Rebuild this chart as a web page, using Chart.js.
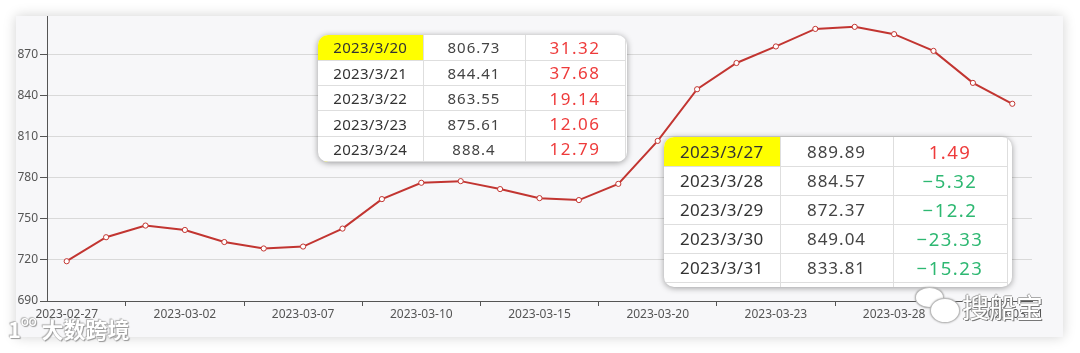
<!DOCTYPE html>
<html>
<head>
<meta charset="utf-8">
<script src="https://cdn.jsdelivr.net/npm/chart.js@4.4.0/dist/chart.umd.min.js"></script>
<style>
  html, body { margin:0; padding:0; background:#ffffff; width:1080px; height:353px; overflow:hidden; }
  #card { position:absolute; left:16px; top:16px; width:1047px; height:321px; background:#f7f7f9;
          box-shadow: 0 0 12px rgba(0,0,0,0.18); overflow:hidden; }
  #cwrap { position:absolute; left:0; top:-16px; width:1047px; height:337px; }
  .tbl { position:absolute; background:#fff; border-radius:10px; box-shadow:0 1px 6px rgba(0,0,0,0.38);
         overflow:hidden; font-family:"Noto Sans", sans-serif; color:#333; }
  .tbl table { border-collapse:collapse; table-layout:fixed; }
  .tbl td { border:1px solid #dedede; text-align:center; padding:0; white-space:nowrap; }
  .tbl tr:first-child td { border-top:none; }
  .tbl td:first-child { border-left:none; }
  .hl { background:#ffff00; }
  .up { color:#ee3b3b; }
  .dn { color:#2eb872; }
  .wm { position:absolute; color:#ffffff; font-family:"Noto Sans CJK SC", sans-serif; font-weight:700;
        text-shadow: 0 0 1px #888, 1px 1px 1px #999, -1px -1px 1px #bbb; }
</style>
</head>
<body>
<div id="card">
  <div id="cwrap"><canvas id="c"></canvas></div>
</div>
<div class="tbl" id="t1" style="left:318px; top:35px; width:309px; height:127px;"></div>
<div class="tbl" id="t2" style="left:664px; top:137px; width:348px; height:150px;"></div>
<div class="wm" style="left:8px; top:312px; font-size:22px; letter-spacing:0px;">1<span style="font-size:15px;vertical-align:top;">ᴼᴼ</span> 大数跨境</div>
<div class="wm" style="left:915px; top:287px; width:27px; height:19px; border-radius:50%; background:#fff; border:1px solid #bbb; box-shadow:0 0 2px #999;"></div>
<div class="wm" style="left:930px; top:298px; width:28px; height:23px; border-radius:50%; background:#fff; border:1px solid #bbb; box-shadow:0 0 2px #999;"></div>
<div class="wm" style="left:962px; top:287px; font-size:27px; font-weight:400; color:#fff; text-shadow: 1px 1px 0 #777, -1px 0 0 #999, 0 -1px 0 #aaa;">搜船宝</div>
<script>
const labels = ['2023-02-27','2023-02-28','2023-03-01','2023-03-02','2023-03-03','2023-03-06','2023-03-07','2023-03-08','2023-03-09','2023-03-10','2023-03-13','2023-03-14','2023-03-15','2023-03-16','2023-03-17','2023-03-20','2023-03-21','2023-03-22','2023-03-23','2023-03-24','2023-03-27','2023-03-28','2023-03-29','2023-03-30','2023-03-31'];
const values = [719, 736.5, 745, 741.8, 733, 728.3, 729.7, 742.8, 764.3, 776.2, 777.4, 771.6, 765.0, 763.6, 775.41, 806.73, 844.41, 863.55, 875.61, 888.4, 889.89, 884.57, 872.37, 849.04, 833.81];
const yTicks = [690, 720, 750, 780, 810, 840, 870, 900];

const table1Dates = ['2023/3/20','2023/3/21','2023/3/22','2023/3/23','2023/3/24'];
const table1Values = ['806.73','844.41','863.55','875.61','888.4'];
const table1Changes = ['31.32','37.68','19.14','12.06','12.79'];
const table2Dates = ['2023/3/27','2023/3/28','2023/3/29','2023/3/30','2023/3/31'];
const table2Values = ['889.89','884.57','872.37','849.04','833.81'];
const table2Changes = ['1.49','−5.32','−12.2','−23.33','−15.23'];

function buildTable(id, dates, vals, chg, widths, rowH, fs1, fs2, extraRow) {
  let h = '<table style="width:' + widths.reduce((a,b)=>a+b,0) + 'px">';
  h += '<colgroup>' + widths.map(w => '<col style="width:' + w + 'px">').join('') + '</colgroup>';
  for (let i = 0; i < dates.length; i++) {
    const cls = chg[i].indexOf('−') === 0 ? 'dn' : 'up';
    h += '<tr style="height:' + rowH + 'px">' +
      '<td class="' + (i === 0 ? 'hl' : '') + '" style="font-size:' + fs1 + 'px;letter-spacing:0.3px">' + dates[i] + '</td>' +
      '<td style="font-size:' + fs1 + 'px;color:#444;letter-spacing:1px">' + vals[i] + '</td>' +
      '<td class="' + cls + '" style="font-size:' + fs2 + 'px;letter-spacing:1.5px">' + chg[i] + '</td></tr>';
  }
  if (extraRow) {
    h += '<tr style="height:' + extraRow + 'px"><td class="' + (extraRow < 3 ? 'hl' : '') + '"></td><td></td><td></td></tr>';
  }
  h += '</table>';
  document.getElementById(id).innerHTML = h;
}
buildTable('t1', table1Dates, table1Values, table1Changes, [105, 102, 100], 25.3, 15, 17, 2);
buildTable('t2', table2Dates, table2Values, table2Changes, [116, 113, 114], 29, 17, 18.5, 5);

const red = '#c23531';
new Chart(document.getElementById('c'), {
  type: 'line',
  data: {
    labels: labels,
    datasets: [{
      data: values,
      borderColor: red,
      borderWidth: 2,
      pointRadius: 2.6,
      pointBorderWidth: 1,
      pointBackgroundColor: '#ffffff',
      pointBorderColor: red,
      tension: 0,
      fill: false
    }]
  },
  options: {
    responsive: true,
    maintainAspectRatio: false,
    animation: false,
    layout: { padding: { top: 13, right: 31, left: 0, bottom: 0 } },
    plugins: { legend: { display: false }, tooltip: { enabled: false } },
    scales: {
      x: {
        offset: true,
        afterFit: s => { s.height = 36; },
        border: { display: true, color: '#555', width: 1 },
        grid: {
          offset: true,
          drawOnChartArea: false,
          drawTicks: true,
          tickLength: 5,
          tickColor: ctx => (ctx.index % 3 === 2 ? '#555' : 'rgba(0,0,0,0)')
        },
        ticks: {
          autoSkip: false,
          maxRotation: 0,
          padding: 1,
          color: '#555',
          font: { family: 'Noto Sans', size: 12 },
          callback: function(v, i) { return i % 3 === 0 ? labels[i] : ''; }
        }
      },
      y: {
        min: 690, max: 900,
        afterFit: s => { s.width = 31; },
        afterBuildTicks: s => { s.ticks = yTicks.map(v => ({ value: v })); },
        border: { display: true, color: '#555', width: 1 },
        grid: { color: '#d9d9d9', tickColor: '#555', tickLength: 7, lineWidth: 1 },
        ticks: {
          padding: 2,
          color: '#555',
          font: { family: 'Noto Sans', size: 12 }
        }
      }
    }
  }
});
</script>
</body>
</html>
